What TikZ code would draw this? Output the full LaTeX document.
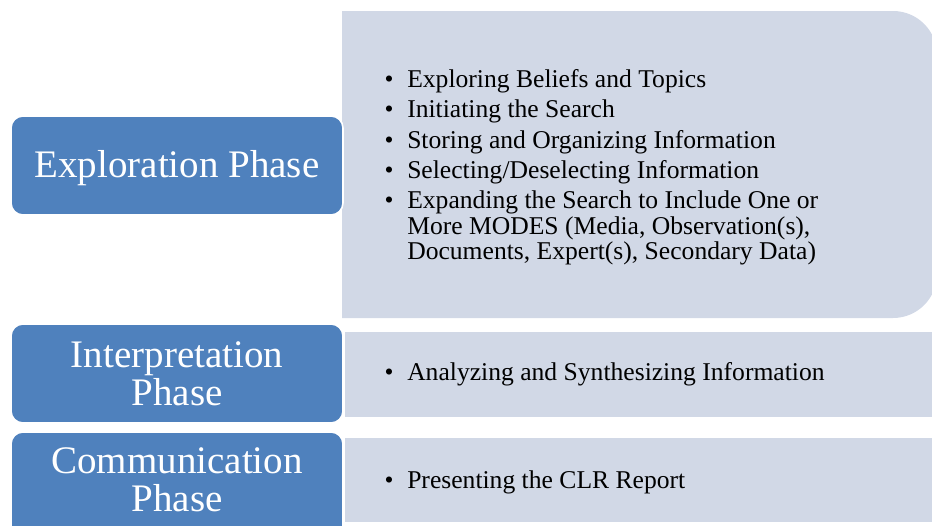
\documentclass[tikz,border=0pt]{standalone}
\usepackage{fontspec}
\setmainfont{Liberation Serif}
\definecolor{phaseblue}{HTML}{4F81BD}
\definecolor{lightfill}{HTML}{D1D8E6}
\begin{document}
\begin{tikzpicture}[x=0.75pt,y=-0.75pt,
  phasebox/.style={draw=white,line width=1.2pt,fill=phaseblue,rounded corners=9pt},
  phasetext/.style={inner sep=0pt,text=white,align=center,font=\fontsize{29.25pt}{28.5pt}\selectfont},
  itemtext/.style={inner sep=0pt,anchor=base west,font=\fontsize{19.2pt}{18pt}\selectfont},
  lightbox/.style={fill=lightfill}]
\useasboundingbox (0,0) rectangle (932,525);
\clip (0,0) rectangle (932,525);
% light content boxes
\fill[lightbox] (342,11) -- (893,11) arc[start angle=90,end angle=0,radius=33pt]
  -- (937,274) arc[start angle=0,end angle=-90,radius=33pt] -- (342,318) -- cycle;
\fill[lightbox] (345,332) rectangle (960,417);
\fill[lightbox] (345,438) rectangle (960,522);
% blue phase boxes
\draw[phasebox] (11,116) rectangle (343,215);
\draw[phasebox] (11,324) rectangle (343,423);
\draw[phasebox] (11,432) rectangle (343,545);
\node[phasetext,anchor=base] (explo) at (177,177) {Exploration Phase};
\node[phasetext] (interp) at (177,374) {Interpretation\\Phase};
\node[phasetext] (comm) at (177,480) {Communication\\Phase};
% bullet items
\newcommand{\blt}{\llap{\makebox[17pt][l]{•}}}
\node[itemtext] (e1) at (407,87.5) {\blt Exploring Beliefs and Topics};
\node[itemtext] (e2) at (407,117.5) {\blt Initiating the Search};
\node[itemtext] (e3) at (407,148) {\blt Storing and Organizing Information};
\node[itemtext] (e4) at (407,178.5) {\blt Selecting/Deselecting Information};
\node[itemtext] (e5) at (407,208.5) {\blt Expanding the Search to Include One or};
\node[itemtext] (e6) at (407,234.5) {More MODES (Media, Observation(s),};
\node[itemtext] (e7) at (407,259) {Documents, Expert(s), Secondary Data)};
\node[itemtext] (i1) at (407,380) {\blt Analyzing and Synthesizing Information};
\node[itemtext] (c1) at (407,488.5) {\blt Presenting the CLR Report};
\end{tikzpicture}
\end{document}
